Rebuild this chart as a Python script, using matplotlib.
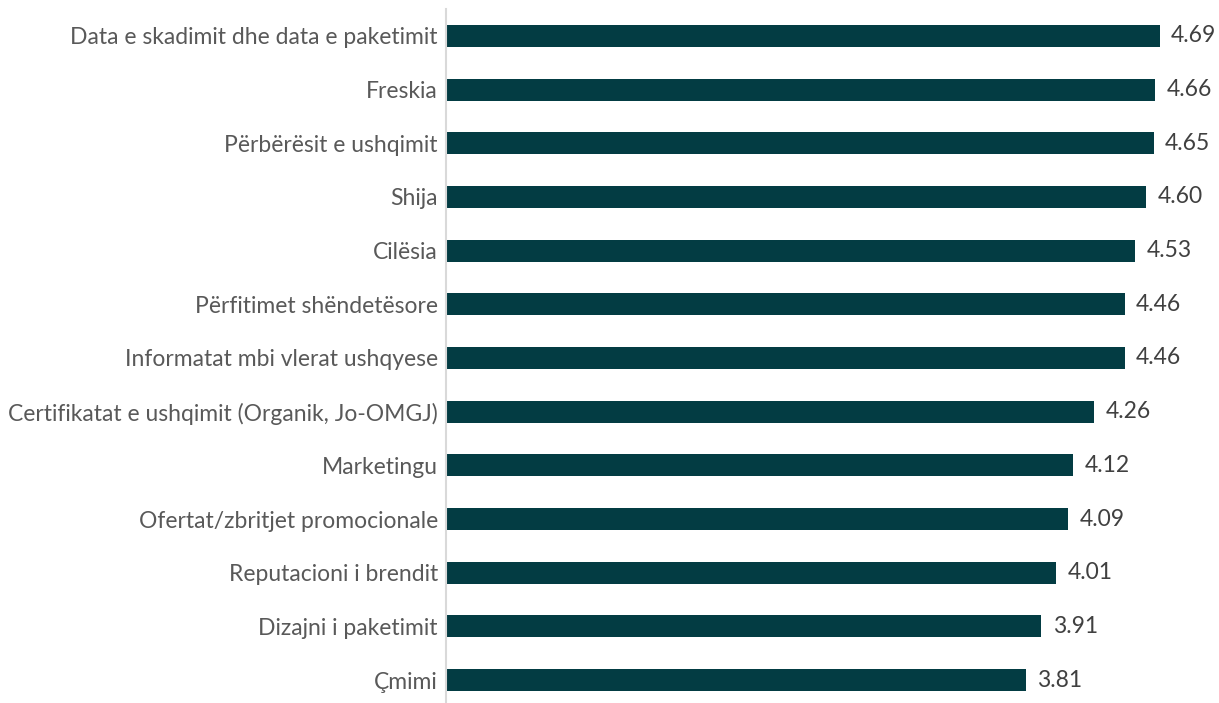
import matplotlib
matplotlib.use("Agg")
import matplotlib.pyplot as plt

categories = [
    "Data e skadimit dhe data e paketimit",
    "Freskia",
    "Përbërësit e ushqimit",
    "Shija",
    "Cilësia",
    "Përfitimet shëndetësore",
    "Informatat mbi vlerat ushqyese",
    "Certifikatat e ushqimit (Organik, Jo-OMGJ)",
    "Marketingu",
    "Ofertat/zbritjet promocionale",
    "Reputacioni i brendit",
    "Dizajni i paketimit",
    "Çmimi",
]
values = [4.69, 4.66, 4.65, 4.60, 4.53, 4.46, 4.46, 4.26, 4.12, 4.09, 4.01, 3.91, 3.81]

plt.rcParams['font.family'] = ['Lato', 'DejaVu Sans']

fig = plt.figure(figsize=(12.19, 7.03), dpi=100)
ax = fig.add_axes([446/1219, -4/703, 1 - 446/1219 - 12/1219, (703 - 9 + 4)/703])

n = len(categories)
ypos = list(range(n))
ax.barh(ypos, values, height=0.41, color="#033c43", zorder=2)
ax.set_ylim(n - 0.5, -0.5)
ax.set_xlim(0, 5)
ax.set_yticks(ypos)
ax.set_yticklabels(categories, fontsize=16.5, color="#595959")
ax.tick_params(axis='y', length=0, pad=5.8)
ax.set_xticks([])
for s in ["top", "right", "bottom"]:
    ax.spines[s].set_visible(False)
ax.spines["left"].set_color("#d9d9d9")
ax.spines["left"].set_linewidth(1.5)

for y, v in zip(ypos, values):
    ax.text(v + 0.075, y, f"{v:.2f}", va="center", ha="left", fontsize=16.5, color="#404040")

fig.savefig("out.png", dpi=100)
